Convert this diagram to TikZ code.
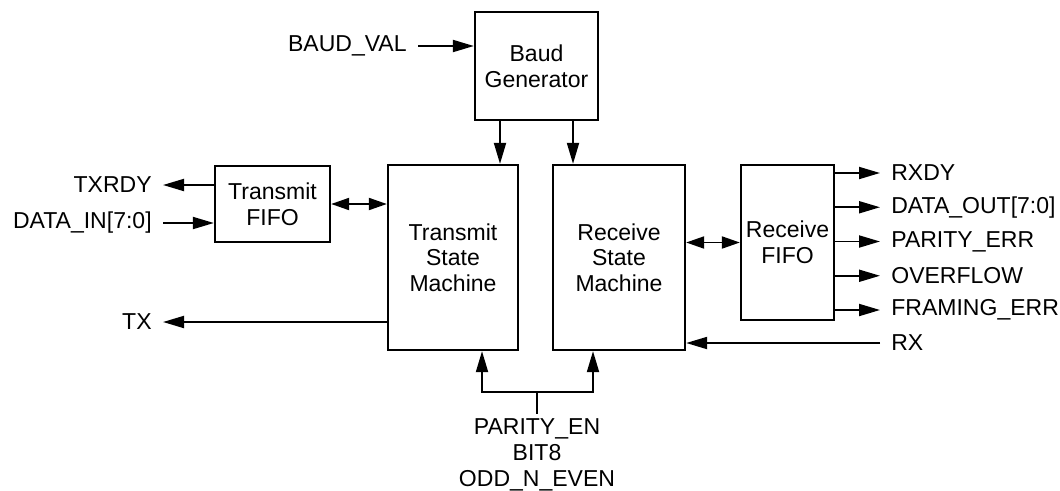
\documentclass[tikz,border=0pt]{standalone}
\usepackage{fontspec}
\setmainfont{Liberation Sans}
\usetikzlibrary{arrows.meta,calc}

\begin{document}
\begin{tikzpicture}[
  x=1cm,
  y=1cm,
  font=\fontsize{13.1}{14.6}\selectfont,
  line/.style={draw=black,line width=1.1pt},
  arrow/.style={line,-{Triangle[length=4.2mm,width=2.4mm]}},
  biarrow/.style={line,{Triangle[length=3.6mm,width=2.4mm]}-{Triangle[length=3.6mm,width=2.4mm]}},
  block/.style={line,line width=1.3pt,align=center,inner sep=2pt},
  sig/.style={inner xsep=0.22cm,inner ysep=0pt}
]
\useasboundingbox (0,0) rectangle (21.2,9.8);

% Blocks
\node[block,minimum width=2.46cm,minimum height=2.16cm] (baud) at (10.73,8.48) {Baud\\Generator};
\node[block,minimum width=2.3cm,minimum height=1.52cm] (tfifo) at (5.45,5.72) {Transmit\\FIFO};
\node[block,minimum width=2.6cm,minimum height=3.7cm] (tsm) at (9.06,4.65) {Transmit\\State\\Machine};
\node[block,minimum width=2.64cm,minimum height=3.7cm] (rsm) at (12.38,4.65) {Receive\\State\\Machine};
\node[block,minimum width=1.86cm,minimum height=3.1cm,inner sep=0pt] (rfifo) at (15.75,4.95) {Receive\\FIFO};

% Baud generator
\node[sig,anchor=east] (baudval) at (8.36,8.88) {BAUD\_VAL};
\draw[arrow] (baudval.east) -- (baud.west |- baudval.east);
\draw[arrow] ([xshift=-0.73cm]baud.south) -- ([xshift=-0.73cm]baud.south |- tsm.north);
\draw[arrow] ([xshift=0.73cm]baud.south) -- ([xshift=0.73cm]baud.south |- rsm.north);

% Transmit side
\node[sig,anchor=east] (txrdy) at (3.26,6.10) {TXRDY};
\node[sig,anchor=east] (datain) at (3.26,5.34) {DATA\_IN[7:0]};
\node[sig,anchor=east] (tx) at (3.26,3.36) {TX};
\draw[arrow] (tfifo.west |- txrdy.east) -- (txrdy.east);
\draw[arrow] (datain.east) -- (tfifo.west |- datain.east);
\draw[biarrow] (tfifo.east) -- (tsm.west |- tfifo.east);
\draw[arrow] (tsm.west |- tx.east) -- (tx.east);

% Receive side
\draw[biarrow] (rsm.east |- rfifo.west) -- (rfifo.west);
\foreach \txt [count=\i from 0] in {RXDY,DATA\_OUT[7:0],PARITY\_ERR,OVERFLOW,FRAMING\_ERR}{
  \node[sig,anchor=west] (out\i) at (17.6,{6.34-0.685*\i}) {\txt};
  \draw[arrow] (rfifo.east |- out\i.west) -- (out\i.west);
}
\node[sig,anchor=west] (rx) at (17.6,2.94) {RX};
\draw[arrow] (rx.west) -- (rsm.east |- rx.west);

% Parameters
\node[align=center,inner sep=0.1cm] (params) at (10.74,0.70) {PARITY\_EN\\BIT8\\ODD\_N\_EVEN};
\coordinate (split) at (10.74,1.96);
\draw[line] (params.north) -- (split);
\draw[arrow] (split) -| ([xshift=0.58cm]tsm.south);
\draw[arrow] (split) -| ([xshift=-0.52cm]rsm.south);

\end{tikzpicture}
\end{document}
